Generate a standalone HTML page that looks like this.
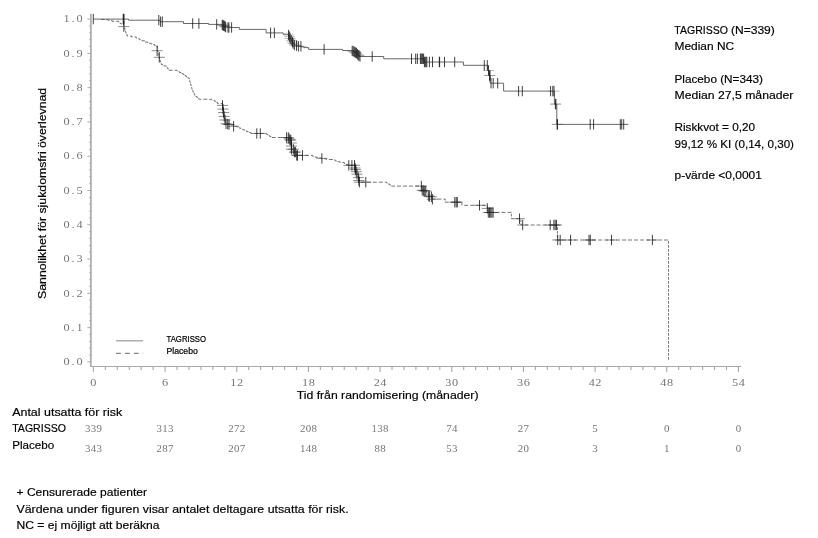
<!DOCTYPE html>
<html lang="sv"><head><meta charset="utf-8"><title>Kaplan-Meier DFS</title>
<style>html,body{margin:0;padding:0;background:#fff}svg{display:block;filter:grayscale(1)}.s{font-family:"Liberation Sans",Arial,sans-serif;font-size:11.7px;fill:#000;stroke:#000;stroke-width:0.18px}.m{font-family:"Liberation Serif","DejaVu Serif",serif;font-size:10.6px;fill:#767676;text-anchor:middle}.r{font-family:"Liberation Serif","DejaVu Serif",serif;font-size:9.4px;fill:#767676;text-anchor:middle}.l{font-family:"Liberation Sans",Arial,sans-serif;font-size:8.2px;fill:#000;stroke:#000;stroke-width:0.2px}</style></head><body>
<svg width="818" height="538" viewBox="0 0 818 538">
<rect width="818" height="538" fill="#fff"/>
<g stroke="#a8a8a8" fill="none">
<path d="M90.9 13.7V366.5" stroke="#b2b2b2" stroke-width="1.9"/>
<path d="M90.2 366.5H741.3" stroke-width="1.1"/>
<path d="M87.4 361.9H90.9M89.2 355.04H90.9M89.2 348.19H90.9M89.2 341.33H90.9M89.2 334.48H90.9M87.4 327.62H90.9M89.2 320.76H90.9M89.2 313.91H90.9M89.2 307.05H90.9M89.2 300.2H90.9M87.4 293.34H90.9M89.2 286.48H90.9M89.2 279.63H90.9M89.2 272.77H90.9M89.2 265.92H90.9M87.4 259.06H90.9M89.2 252.2H90.9M89.2 245.35H90.9M89.2 238.49H90.9M89.2 231.64H90.9M87.4 224.78H90.9M89.2 217.92H90.9M89.2 211.07H90.9M89.2 204.21H90.9M89.2 197.36H90.9M87.4 190.5H90.9M89.2 183.64H90.9M89.2 176.79H90.9M89.2 169.93H90.9M89.2 163.08H90.9M87.4 156.22H90.9M89.2 149.36H90.9M89.2 142.51H90.9M89.2 135.65H90.9M89.2 128.8H90.9M87.4 121.94H90.9M89.2 115.08H90.9M89.2 108.23H90.9M89.2 101.37H90.9M89.2 94.52H90.9M87.4 87.66H90.9M89.2 80.8H90.9M89.2 73.95H90.9M89.2 67.09H90.9M89.2 60.24H90.9M87.4 53.38H90.9M89.2 46.52H90.9M89.2 39.67H90.9M89.2 32.81H90.9M89.2 25.96H90.9M87.4 19.1H90.9" stroke-width="1"/>
<path d="M93.4 366.5V372M105.34 366.5V369.9M117.29 366.5V369.9M129.24 366.5V369.9M141.18 366.5V369.9M153.12 366.5V369.9M165.07 366.5V372M177.02 366.5V369.9M188.96 366.5V369.9M200.91 366.5V369.9M212.85 366.5V369.9M224.8 366.5V369.9M236.74 366.5V372M248.69 366.5V369.9M260.63 366.5V369.9M272.58 366.5V369.9M284.52 366.5V369.9M296.47 366.5V369.9M308.41 366.5V372M320.36 366.5V369.9M332.3 366.5V369.9M344.25 366.5V369.9M356.19 366.5V369.9M368.13 366.5V369.9M380.08 366.5V372M392.02 366.5V369.9M403.97 366.5V369.9M415.91 366.5V369.9M427.86 366.5V369.9M439.81 366.5V369.9M451.75 366.5V372M463.7 366.5V369.9M475.64 366.5V369.9M487.59 366.5V369.9M499.53 366.5V369.9M511.48 366.5V369.9M523.42 366.5V372M535.37 366.5V369.9M547.31 366.5V369.9M559.25 366.5V369.9M571.2 366.5V369.9M583.14 366.5V369.9M595.09 366.5V372M607.03 366.5V369.9M618.98 366.5V369.9M630.92 366.5V369.9M642.87 366.5V369.9M654.81 366.5V369.9M666.76 366.5V372M678.71 366.5V369.9M690.65 366.5V369.9M702.6 366.5V369.9M714.54 366.5V369.9M726.49 366.5V369.9M738.43 366.5V372" stroke-width="1.1"/>
</g>
<text class="m" transform="scale(1.16 1)" x="57.33 63.02 68.71" y="365.1">0.0</text>
<text class="m" transform="scale(1.16 1)" x="57.33 63.02 68.71" y="330.82">0.1</text>
<text class="m" transform="scale(1.16 1)" x="57.33 63.02 68.71" y="296.54">0.2</text>
<text class="m" transform="scale(1.16 1)" x="57.33 63.02 68.71" y="262.26">0.3</text>
<text class="m" transform="scale(1.16 1)" x="57.33 63.02 68.71" y="227.98">0.4</text>
<text class="m" transform="scale(1.16 1)" x="57.33 63.02 68.71" y="193.7">0.5</text>
<text class="m" transform="scale(1.16 1)" x="57.33 63.02 68.71" y="159.42">0.6</text>
<text class="m" transform="scale(1.16 1)" x="57.33 63.02 68.71" y="125.14">0.7</text>
<text class="m" transform="scale(1.16 1)" x="57.33 63.02 68.71" y="90.86">0.8</text>
<text class="m" transform="scale(1.16 1)" x="57.33 63.02 68.71" y="56.58">0.9</text>
<text class="m" transform="scale(1.16 1)" x="57.33 63.02 68.71" y="22.3">1.0</text>
<text class="m" transform="scale(1.16 1)" x="80.52" y="385.9">0</text>
<text class="m" transform="scale(1.16 1)" x="142.3" y="385.9">6</text>
<text class="m" transform="scale(1.16 1)" x="201.24 206.93" y="385.9">12</text>
<text class="m" transform="scale(1.16 1)" x="263.03 268.72" y="385.9">18</text>
<text class="m" transform="scale(1.16 1)" x="324.81 330.5" y="385.9">24</text>
<text class="m" transform="scale(1.16 1)" x="386.59 392.28" y="385.9">30</text>
<text class="m" transform="scale(1.16 1)" x="448.38 454.07" y="385.9">36</text>
<text class="m" transform="scale(1.16 1)" x="510.16 515.85" y="385.9">42</text>
<text class="m" transform="scale(1.16 1)" x="571.95 577.64" y="385.9">48</text>
<text class="m" transform="scale(1.16 1)" x="633.73 639.42" y="385.9">54</text>
<g transform="scale(1 0.66667)" fill="none">
<path d="M93.4 28.65 L128.5 28.65 L128.5 30.3 L160 30.3 L160 32.55 L183.5 32.55 L183.5 35.25 L208.6 35.25 L208.6 36.6 L222.2 36.6 L222.2 37.5 L223.2 37.5 L223.2 38.7 L224.4 38.7 L224.4 39.75 L225.6 39.75 L225.6 40.65 L228 40.65 L228 41.25 L239.3 41.25 L239.3 44.1 L266.1 44.1 L266.1 49.35 L283.1 49.35 L283.1 51.3 L288 51.3 L288 52.5 L289 52.5 L289 55.05 L290 55.05 L290 57.75 L291 57.75 L291 60.45 L292 60.45 L292 63 L293 63 L293 65.25 L294.4 65.25 L294.4 67.5 L296.5 67.5 L296.5 68.4 L298.4 68.4 L298.4 69.45 L301 69.45 L301 70.35 L304 70.35 L304 71.4 L308.6 71.4 L308.6 74.1 L342.6 74.1 L342.6 75.75 L352.2 75.75 L352.2 76.5 L354 76.5 L354 78 L355.5 78 L355.5 79.5 L356.8 79.5 L356.8 81.3 L358 81.3 L358 82.95 L359.2 82.95 L359.2 84.75 L383.7 84.75 L383.7 88.2 L424 88.2 L424 93 L463.4 93 L463.4 97.95 L487.7 97.95 L487.7 105.75 L489 105.75 L489 113.25 L490.2 113.25 L490.2 124.8 L503.6 124.8 L503.6 136.65 L554.4 136.65 L554.4 156.15 L556.8 156.15 L556.8 186.6 L628.4 186.6" stroke="#4a4a4a" stroke-width="1"/>
<path d="M101 29.1 L103.9 29.1 L103.9 29.7 L108.8 29.7 L108.8 30.9 L112.2 30.9 L112.2 31.95 L117 31.95 L118.9 31.95 L118.9 33.75 L120.1 33.75 L120.1 35.18 L121.3 35.18 L121.3 36.6 L123.7 36.6 L123.7 36.9 L123.97 36.9 L123.97 38.25 L124.23 38.25 L124.23 39.6 L124.5 39.6 L124.5 40.95 L124.67 40.95 L124.67 42.41 L124.85 42.41 L124.85 43.88 L125.03 43.88 L125.03 45.34 L125.2 45.34 L125.2 46.8 L125.58 46.8 L125.58 48.24 L125.96 48.24 L125.96 49.68 L126.34 49.68 L126.34 51.12 L126.72 51.12 L126.72 52.56 L127.1 52.56 L127.1 54 L131.5 54 L131.5 55.5 L136.3 55.5 L136.3 57.6 L139.2 57.6 L139.2 59.4 L142.1 59.4 L142.1 61.2 L145 61.2 L145 63.07 L147.9 63.07 L147.9 64.95 L151.3 64.95 L151.3 66.75 L154.7 66.75 L154.7 68.55 L157.1 68.55 L157.1 69.3 L157.22 69.3 L157.22 70.91 L157.35 70.91 L157.35 72.53 L157.47 72.53 L157.47 74.14 L157.6 74.14 L157.6 75.75 L157.82 75.75 L157.82 77.25 L158.05 77.25 L158.05 78.75 L158.28 78.75 L158.28 80.25 L158.5 80.25 L158.5 81.75 L158.72 81.75 L158.72 83.25 L158.95 83.25 L158.95 84.75 L159.18 84.75 L159.18 86.25 L159.4 86.25 L159.4 87.75 L159.73 87.75 L159.73 89.3 L160.07 89.3 L160.07 90.85 L160.4 90.85 L160.4 92.4 L160.73 92.4 L160.73 93.95 L161.07 93.95 L161.07 95.5 L161.4 95.5 L161.4 97.05 L163.9 97.05 L163.9 98.93 L166.4 98.93 L166.4 100.8 L167.27 100.8 L167.27 102.35 L168.13 102.35 L168.13 103.9 L169 103.9 L169 105.45 L177.2 105.45 L177.2 107.4 L179.4 107.4 L179.4 108.83 L181.6 108.83 L181.6 110.25 L183.07 110.25 L183.07 111.85 L184.53 111.85 L184.53 113.45 L186 113.45 L186 115.05 L187.6 115.05 L187.6 116.93 L189.2 116.93 L189.2 118.8 L189.46 118.8 L189.46 120.3 L189.72 120.3 L189.72 121.8 L189.98 121.8 L189.98 123.3 L190.24 123.3 L190.24 124.8 L190.5 124.8 L190.5 126.3 L190.82 126.3 L190.82 127.9 L191.13 127.9 L191.13 129.5 L191.45 129.5 L191.45 131.1 L191.77 131.1 L191.77 132.7 L192.08 132.7 L192.08 134.3 L192.4 134.3 L192.4 135.9 L192.9 135.9 L192.9 137.4 L193.4 137.4 L193.4 138.9 L193.9 138.9 L193.9 140.4 L194.4 140.4 L194.4 141.9 L194.9 141.9 L194.9 143.4 L195.85 143.4 L195.85 144.75 L196.8 144.75 L196.8 146.1 L197.75 146.1 L197.75 147.45 L198.7 147.45 L198.7 148.8 L208.8 148.8 L208.8 148.95 L211.65 148.95 L211.65 150.45 L214.5 150.45 L214.5 151.95 L216 151.95 L216 153.67 L217.5 153.67 L217.5 155.4 L222.3 155.4 L222.3 156.45 L222.44 156.45 L222.44 157.89 L222.58 157.89 L222.58 159.33 L222.72 159.33 L222.72 160.77 L222.86 160.77 L222.86 162.21 L223 162.21 L223 163.65 L223.17 163.65 L223.17 165.21 L223.34 165.21 L223.34 166.78 L223.51 166.78 L223.51 168.34 L223.69 168.34 L223.69 169.91 L223.86 169.91 L223.86 171.47 L224.03 171.47 L224.03 173.04 L224.2 173.04 L224.2 174.6 L224.46 174.6 L224.46 176.19 L224.71 176.19 L224.71 177.77 L224.97 177.77 L224.97 179.36 L225.23 179.36 L225.23 180.94 L225.49 180.94 L225.49 182.53 L225.74 182.53 L225.74 184.11 L226 184.11 L226 185.7 L229.8 185.7 L229.8 187.58 L233.6 187.58 L233.6 189.45 L236.9 189.45 L236.9 190.65 L238.85 190.65 L238.85 192.02 L240.8 192.02 L240.8 193.4 L242.75 193.4 L242.75 194.78 L244.7 194.78 L244.7 196.15 L246.65 196.15 L246.65 197.53 L248.6 197.53 L248.6 198.9 L251 198.9 L251 200.1 L265.4 200.1 L265.4 200.4 L266.85 200.4 L266.85 201.86 L268.3 201.86 L268.3 203.33 L269.75 203.33 L269.75 204.79 L271.2 204.79 L271.2 206.25 L286.7 206.25 L288.75 206.25 L288.75 208.12 L290.8 208.12 L290.8 210 L291 210 L291 211.5 L291.2 211.5 L291.2 213 L291.4 213 L291.4 214.5 L291.43 214.5 L291.43 216.05 L291.47 216.05 L291.47 217.6 L291.5 217.6 L291.5 219.15 L291.53 219.15 L291.53 220.7 L291.57 220.7 L291.57 222.25 L291.6 222.25 L291.6 223.8 L292.53 223.8 L292.53 225.25 L293.47 225.25 L293.47 226.7 L294.4 226.7 L294.4 228.15 L295.17 228.15 L295.17 229.8 L295.93 229.8 L295.93 231.45 L296.7 231.45 L296.7 233.1 L310.5 233.1 L312.73 233.1 L312.73 234.4 L314.97 234.4 L314.97 235.7 L317.2 235.7 L317.2 237 L321.75 237 L321.75 238.12 L326.3 238.12 L326.3 239.25 L335 239.25 L335 241.35 L337.5 241.35 L337.5 242.55 L340 242.55 L340 243.75 L344.2 243.75 L344.2 245.1 L346.1 245.1 L346.1 246.53 L348 246.53 L348 247.95 L354.5 247.95 L354.78 247.95 L354.78 249.55 L355.07 249.55 L355.07 251.15 L355.35 251.15 L355.35 252.75 L355.63 252.75 L355.63 254.35 L355.92 254.35 L355.92 255.95 L356.2 255.95 L356.2 257.55 L356.57 257.55 L356.57 259.03 L356.93 259.03 L356.93 260.5 L357.3 260.5 L357.3 261.97 L357.67 261.97 L357.67 263.45 L358.03 263.45 L358.03 264.93 L358.4 264.93 L358.4 266.4 L358.6 266.4 L358.6 267.78 L358.8 267.78 L358.8 269.16 L359 269.16 L359 270.54 L359.2 270.54 L359.2 271.92 L359.4 271.92 L359.4 273.3 L385.4 273.3 L386.7 273.3 L386.7 274.65 L388 274.65 L388 276 L389.75 276 L389.75 277.58 L391.5 277.58 L391.5 279.15 L421.3 279.15 L421.52 279.15 L421.52 280.84 L421.75 280.84 L421.75 282.53 L421.98 282.53 L421.98 284.21 L422.2 284.21 L422.2 285.9 L425.8 285.9 L425.8 286.35 L426.4 286.35 L426.4 287.94 L427 287.94 L427 289.53 L427.6 289.53 L427.6 291.12 L428.2 291.12 L428.2 292.71 L428.8 292.71 L428.8 294.3 L431.4 294.3 L431.4 295.2 L431.9 295.2 L431.9 296.93 L432.4 296.93 L432.4 298.65 L445.2 298.65 L445.2 303.3 L461.9 303.3 L461.9 307.95 L487.3 307.95 L487.3 312.6 L487.55 312.6 L487.55 314.1 L487.8 314.1 L487.8 315.6 L488.05 315.6 L488.05 317.1 L488.3 317.1 L488.3 318.6 L511.4 318.6 L511.4 328.05 L520.9 328.05 L520.9 337.5 L557.4 337.5 L557.4 360 L668.5 360 L668.5 540.75" stroke="#484848" stroke-width="0.9" stroke-dasharray="4 2"/>
<path d="M216.7 37.5H227.7M217.4 37.5H228.4M218.1 38.7H229.1M218.8 38.7H229.8M219.5 39.75H230.5M220.2 40.65H231.2M283 52.5H294M284.1 55.05H295.1M284.7 57.75H295.7M285.8 60.45H296.8M287 63H298M287.6 65.25H298.6M288.9 67.5H299.9M291 68.4H302M292.9 69.45H303.9M295.4 69.45H306.4M346.7 76.5H357.7M347.7 76.5H358.7M348.7 78H359.7M349.5 78H360.5M350.3 79.5H361.3M351.1 79.5H362.1M351.9 81.3H362.9M352.7 82.95H363.7M353.5 82.95H364.5M354.5 84.75H365.5M483 105.75H494M484 113.25H495M484.5 113.25H495.5M548.5 136.65H559.5M549.9 156.15H560.9M550.4 156.15H561.4M551.6 186.6H562.6M552 186.6H563" stroke="#555" stroke-width="0.75" stroke-opacity="0.6"/>
<path d="M118.3 39.9H129.3M151.6 76.05H162.6M153.8 85.95H164.8M217 158.1H228M217.5 163.65H228.5M218 168.75H229M218.7 174.6H229.7M219.5 180H230.5M220.5 185.7H231.5M222.2 186.3H233.2M223.5 186.75H234.5M228.1 189.45H239.1M251.3 200.25H262.3M254.8 200.25H265.8M281.1 206.25H292.1M282.8 206.25H293.8M283.6 208.05H294.6M284.5 210H295.5M285.3 210H296.3M285.9 214.5H296.9M285.9 219H296.9M285.9 223.8H296.9M287.8 223.8H298.8M288.9 228.15H299.9M289.9 228.15H300.9M291.2 233.1H302.2M292 233.1H303M297 233.1H308M316.4 237.6H327.4M343.3 247.95H354.3M346.4 247.95H357.4M349 247.95H360M349.5 252H360.5M350 254.4H361M350.7 257.55H361.7M351.5 261.3H362.5M352.9 266.4H363.9M353.4 270.75H364.4M353.9 273.3H364.9M360.3 273.3H371.3M415.8 279.15H426.8M416.7 285.45H427.7M417.9 285.9H428.9M419.2 286.35H430.2M420.3 286.35H431.3M423.3 294H434.3M423.8 294.9H434.8M425.9 295.2H436.9M426.9 298.8H437.9M449.3 303.3H460.3M450.7 303.3H461.7M451.8 303.3H462.8M474 307.95H485M481.8 312.6H492.8M482.8 318.75H493.8M484 318.75H495M485.2 318.75H496.2M486.4 318.75H497.4M487.6 318.75H498.6M514 328.05H525M517.2 337.5H528.2M544.7 337.5H555.7M548.4 337.5H559.4M549.7 337.5H560.7M551 337.5H562M552.2 360H563.2M554.7 360H565.7M565.1 360H576.1M583.5 360H594.5M584.8 360H595.8M606 360H617M646.9 360H657.9" stroke="#444" stroke-width="0.9" stroke-opacity="0.8"/>
<path d="M93.3 20.85V36.45M123.2 20.85V36.45M123.6 20.85V36.45M124 20.85V36.45M158.8 22.5V38.1M160.6 24.75V40.35M162.3 24.75V40.35M192.7 27.45V43.05M198.9 27.45V43.05M216.7 28.8V44.4M222.2 29.7V45.3M222.9 29.7V45.3M223.6 30.9V46.5M224.3 30.9V46.5M225 31.95V47.55M225.7 32.85V48.45M228 33.45V49.05M228.9 33.45V49.05M231.6 33.45V49.05M270.6 41.55V57.15M274.4 41.55V57.15M288.5 44.7V60.3M289.6 47.25V62.85M290.2 49.95V65.55M291.3 52.65V68.25M292.5 55.2V70.8M293.1 57.45V73.05M294.4 59.7V75.3M296.5 60.6V76.2M298.4 61.65V77.25M300.9 61.65V77.25M324.1 66.3V81.9M352.2 68.7V84.3M353.2 68.7V84.3M354.2 70.2V85.8M355 70.2V85.8M355.8 71.7V87.3M356.6 71.7V87.3M357.4 73.5V89.1M358.2 75.15V90.75M359 75.15V90.75M360 76.95V92.55M372.2 76.95V92.55M411.5 80.4V96M415.7 80.4V96M417.4 80.4V96M420.4 80.4V96M421.2 80.4V96M422 80.4V96M422.8 80.4V96M423.6 80.4V96M424.4 85.2V100.8M425.2 85.2V100.8M426 85.2V100.8M426.8 85.2V100.8M429.4 85.2V100.8M432.5 85.2V100.8M439.3 85.2V100.8M439.6 85.2V100.8M444.5 85.2V100.8M454.7 85.2V100.8M484.3 90.15V105.75M487.3 90.15V105.75M488.5 97.95V113.55M489.5 105.45V121.05M490 105.45V121.05M491 117V132.6M493.2 117V132.6M497.7 117V132.6M518.6 128.85V144.45M522.3 128.85V144.45M550.6 128.85V144.45M552.8 128.85V144.45M554 128.85V144.45M555.4 148.35V163.95M555.9 148.35V163.95M557.1 178.8V194.4M557.5 178.8V194.4M590.2 178.8V194.4M593.6 178.8V194.4M620.3 178.8V194.4M621.7 178.8V194.4M623.7 178.8V194.4M123.8 32.1V47.7M157.1 68.25V83.85M159.3 78.15V93.75M222.5 150.3V165.9M223 155.85V171.45M223.5 160.95V176.55M224.2 166.8V182.4M225 172.2V187.8M226 177.9V193.5M227.7 178.5V194.1M229 178.95V194.55M233.6 181.65V197.25M256.8 192.45V208.05M260.3 192.45V208.05M286.6 198.45V214.05M288.3 198.45V214.05M289.1 200.25V215.85M290 202.2V217.8M290.8 202.2V217.8M291.4 206.7V222.3M291.4 211.2V226.8M291.4 216V231.6M293.3 216V231.6M294.4 220.35V235.95M295.4 220.35V235.95M296.7 225.3V240.9M297.5 225.3V240.9M302.5 225.3V240.9M321.9 229.8V245.4M348.8 240.15V255.75M351.9 240.15V255.75M354.5 240.15V255.75M355 244.2V259.8M355.5 246.6V262.2M356.2 249.75V265.35M357 253.5V269.1M358.4 258.6V274.2M358.9 262.95V278.55M359.4 265.5V281.1M365.8 265.5V281.1M421.3 271.35V286.95M422.2 277.65V293.25M423.4 278.1V293.7M424.7 278.55V294.15M425.8 278.55V294.15M428.8 286.2V301.8M429.3 287.1V302.7M431.4 287.4V303M432.4 291V306.6M454.8 295.5V311.1M456.2 295.5V311.1M457.3 295.5V311.1M479.5 300.15V315.75M487.3 304.8V320.4M488.3 310.95V326.55M489.5 310.95V326.55M490.7 310.95V326.55M491.9 310.95V326.55M493.1 310.95V326.55M519.5 320.25V335.85M522.7 329.7V345.3M550.2 329.7V345.3M553.9 329.7V345.3M555.2 329.7V345.3M556.5 329.7V345.3M557.7 352.2V367.8M560.2 352.2V367.8M570.6 352.2V367.8M589 352.2V367.8M590.3 352.2V367.8M611.5 352.2V367.8M652.4 352.2V367.8" stroke="#1c1c1c" stroke-width="1"/>
</g>
<path d="M116.1 340.8H143.2" stroke="#aaa" stroke-width="1.4" fill="none"/>
<path d="M116.1 353.3H143.2" stroke="#666" stroke-width="1" stroke-dasharray="4.7 4.2" fill="none"/>
<text class="l" x="166.5" y="342" textLength="39.6" lengthAdjust="spacingAndGlyphs">TAGRISSO</text>
<text class="l" x="166.5" y="353.8" textLength="31.3" lengthAdjust="spacingAndGlyphs">Placebo</text>
<text class="s" x="674.3" y="33.7" textLength="53.6" lengthAdjust="spacingAndGlyphs">TAGRISSO</text>
<text class="s" x="731" y="33.7" textLength="43.8" lengthAdjust="spacingAndGlyphs">(N=339)</text>
<text class="s" x="674.5" y="49.8" textLength="59.6" lengthAdjust="spacingAndGlyphs">Median NC</text>
<text class="s" x="674.5" y="82.6" textLength="88.4" lengthAdjust="spacingAndGlyphs">Placebo (N=343)</text>
<text class="s" x="674.5" y="98.5" textLength="118.9" lengthAdjust="spacingAndGlyphs">Median 27,5 månader</text>
<text class="s" x="674.5" y="131.4" textLength="80.6" lengthAdjust="spacingAndGlyphs">Riskkvot = 0,20</text>
<text class="s" x="674.5" y="147.9" textLength="119.5" lengthAdjust="spacingAndGlyphs">99,12 % KI (0,14, 0,30)</text>
<text class="s" x="674.5" y="179.4" textLength="87.4" lengthAdjust="spacingAndGlyphs">p-värde &lt;0,0001</text>
<text class="s" x="296.7" y="398.7" textLength="181.8" lengthAdjust="spacingAndGlyphs">Tid från randomisering (månader)</text>
<text class="s" transform="translate(46.1 299) rotate(-90)" textLength="211.2" lengthAdjust="spacingAndGlyphs">Sannolikhet för sjukdomsfri överlevnad</text>
<text class="s" x="12.2" y="416.4" textLength="110" lengthAdjust="spacingAndGlyphs">Antal utsatta för risk</text>
<text class="s" x="12.2" y="432.3" textLength="53.8" lengthAdjust="spacingAndGlyphs">TAGRISSO</text>
<text class="s" x="12.2" y="449.1" textLength="42.1" lengthAdjust="spacingAndGlyphs">Placebo</text>
<text class="r" transform="scale(1.16 1)" x="75.56 80.52 85.47" y="432.5">339</text>
<text class="r" transform="scale(1.16 1)" x="75.56 80.52 85.47" y="452.1">343</text>
<text class="r" transform="scale(1.16 1)" x="137.34 142.3 147.26" y="432.5">313</text>
<text class="r" transform="scale(1.16 1)" x="137.34 142.3 147.26" y="452.1">287</text>
<text class="r" transform="scale(1.16 1)" x="199.13 204.09 209.04" y="432.5">272</text>
<text class="r" transform="scale(1.16 1)" x="199.13 204.09 209.04" y="452.1">207</text>
<text class="r" transform="scale(1.16 1)" x="260.91 265.87 270.83" y="432.5">208</text>
<text class="r" transform="scale(1.16 1)" x="260.91 265.87 270.83" y="452.1">148</text>
<text class="r" transform="scale(1.16 1)" x="322.7 327.66 332.61" y="432.5">138</text>
<text class="r" transform="scale(1.16 1)" x="325.18 330.13" y="452.1">88</text>
<text class="r" transform="scale(1.16 1)" x="386.96 391.92" y="432.5">74</text>
<text class="r" transform="scale(1.16 1)" x="386.96 391.92" y="452.1">53</text>
<text class="r" transform="scale(1.16 1)" x="448.75 453.7" y="432.5">27</text>
<text class="r" transform="scale(1.16 1)" x="448.75 453.7" y="452.1">20</text>
<text class="r" transform="scale(1.16 1)" x="513.01" y="432.5">5</text>
<text class="r" transform="scale(1.16 1)" x="513.01" y="452.1">3</text>
<text class="r" transform="scale(1.16 1)" x="574.79" y="432.5">0</text>
<text class="r" transform="scale(1.16 1)" x="574.79" y="452.1">1</text>
<text class="r" transform="scale(1.16 1)" x="636.58" y="432.5">0</text>
<text class="r" transform="scale(1.16 1)" x="636.58" y="452.1">0</text>
<text class="s" x="16.5" y="495.7" textLength="130.5" lengthAdjust="spacingAndGlyphs">+ Censurerade patienter</text>
<text class="s" x="16.5" y="512.6" textLength="332.1" lengthAdjust="spacingAndGlyphs">Värdena under figuren visar antalet deltagare utsatta för risk.</text>
<text class="s" x="16.5" y="528.5" textLength="143" lengthAdjust="spacingAndGlyphs">NC = ej möjligt att beräkna</text>
</svg></body></html>
